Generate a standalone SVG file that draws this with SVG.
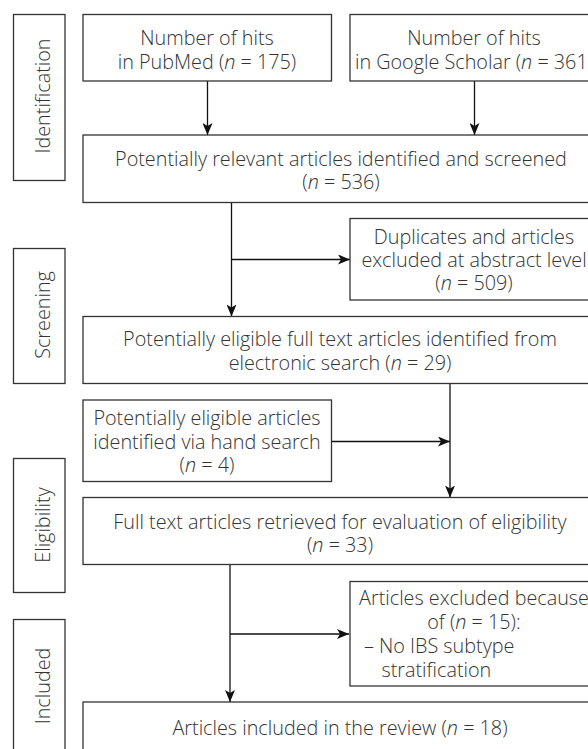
<svg xmlns="http://www.w3.org/2000/svg" width="588" height="749" viewBox="0 0 588 749">
<style>
.box{fill:#fff;stroke:#333;stroke-width:1.3}
.t{font-family:"Open Sans","Liberation Sans",sans-serif;font-weight:300;font-size:19.8px;fill:#333;text-anchor:middle}
.tl{text-anchor:start}
.i{font-style:italic}
.c{fill:none;stroke:#111;stroke-width:1.3}
</style>
<defs>
<marker id="ah" viewBox="0 0 12 10" refX="12" refY="5" markerWidth="12" markerHeight="10" markerUnits="userSpaceOnUse" orient="auto">
<path d="M0,0 L12,5 L0,10 L3,5 Z" fill="#111"/>
</marker>
</defs>
<g id="label-identification"><rect class="box" x="13.5" y="14.5" width="51.5" height="166"/><text class="t" transform="translate(50,96) rotate(-90)">Identification</text></g>
<g id="label-screening"><rect class="box" x="13.5" y="248.5" width="51.5" height="135"/><text class="t" transform="translate(50,315) rotate(-90)">Screening</text></g>
<g id="label-eligibility"><rect class="box" x="13.5" y="458.5" width="51.5" height="134"/><text class="t" transform="translate(50,525) rotate(-90)">Eligibility</text></g>
<g id="label-included"><rect class="box" x="13.5" y="619.5" width="51.5" height="150"/><text class="t" transform="translate(50,686) rotate(-90)">Included</text></g>

<g id="connectors">
<line class="c" x1="207.5" y1="81" x2="207.5" y2="135" marker-end="url(#ah)"/>
<line class="c" x1="474.5" y1="81" x2="474.5" y2="135" marker-end="url(#ah)"/>
<line class="c" x1="231.5" y1="202.5" x2="231.5" y2="316.5" marker-end="url(#ah)"/>
<line class="c" x1="231.5" y1="259.5" x2="350" y2="259.5" marker-end="url(#ah)"/>
<line class="c" x1="450" y1="383.5" x2="450" y2="497.5" marker-end="url(#ah)"/>
<line class="c" x1="331.5" y1="441.5" x2="450" y2="441.5" marker-end="url(#ah)"/>
<line class="c" x1="230" y1="564.5" x2="230" y2="702" marker-end="url(#ah)"/>
<line class="c" x1="230" y1="634" x2="349" y2="634" marker-end="url(#ah)"/>
</g>

<g id="pubmed"><rect class="box" x="83" y="14.5" width="248.5" height="66.5"/>
<text class="t"><tspan x="207" y="45">Number of hits</tspan><tspan x="207" y="68.5">in PubMed (<tspan class="i">n</tspan> = 175)</tspan></text></g>
<g id="scholar"><rect class="box" x="350" y="14.5" width="248" height="66.5"/>
<text class="t"><tspan x="474" y="45">Number of hits</tspan><tspan x="474" y="68.5">in Google Scholar (<tspan class="i">n</tspan> = 361)</tspan></text></g>
<g id="relevant"><rect class="box" x="83" y="135" width="517" height="67.5"/>
<text class="t"><tspan x="341" y="166">Potentially relevant articles identified and screened</tspan><tspan x="341" y="189">(<tspan class="i">n</tspan> = 536)</tspan></text></g>
<g id="duplicates"><rect class="box" x="350" y="218.5" width="248" height="81.5"/>
<text class="t"><tspan x="474" y="243.5">Duplicates and articles</tspan><tspan x="474" y="266.5">excluded at abstract level</tspan><tspan x="474" y="289.5">(<tspan class="i">n</tspan> = 509)</tspan></text></g>
<g id="eligible"><rect class="box" x="83" y="316.5" width="517" height="67"/>
<text class="t"><tspan x="340" y="346">Potentially eligible full text articles identified from</tspan><tspan x="340" y="369.5">electronic search (<tspan class="i">n</tspan> = 29)</tspan></text></g>
<g id="hand"><rect class="box" x="83" y="400" width="248.5" height="81.5"/>
<text class="t"><tspan x="207" y="425">Potentially eligible articles</tspan><tspan x="207" y="448.5">identified via hand search</tspan><tspan x="207" y="472">(<tspan class="i">n</tspan> = 4)</tspan></text></g>
<g id="retrieved"><rect class="box" x="83" y="497.5" width="517" height="67"/>
<text class="t"><tspan x="340" y="528.5">Full text articles retrieved for evaluation of eligibility</tspan><tspan x="340" y="551.5">(<tspan class="i">n</tspan> = 33)</tspan></text></g>
<g id="excluded"><rect class="box" x="350" y="581.5" width="248" height="104.5"/>
<text class="t"><tspan x="474" y="605">Articles excluded because</tspan><tspan x="474" y="628.5">of (<tspan class="i">n</tspan> = 15):</tspan><tspan class="tl" x="364" y="653">– No IBS subtype</tspan><tspan class="tl" x="381.5" y="676.5">stratification</tspan></text></g>
<g id="included"><rect class="box" x="83" y="702" width="517" height="67"/>
<text class="t"><tspan x="340" y="735">Articles included in the review (<tspan class="i">n</tspan> = 18)</tspan></text></g>
</svg>
